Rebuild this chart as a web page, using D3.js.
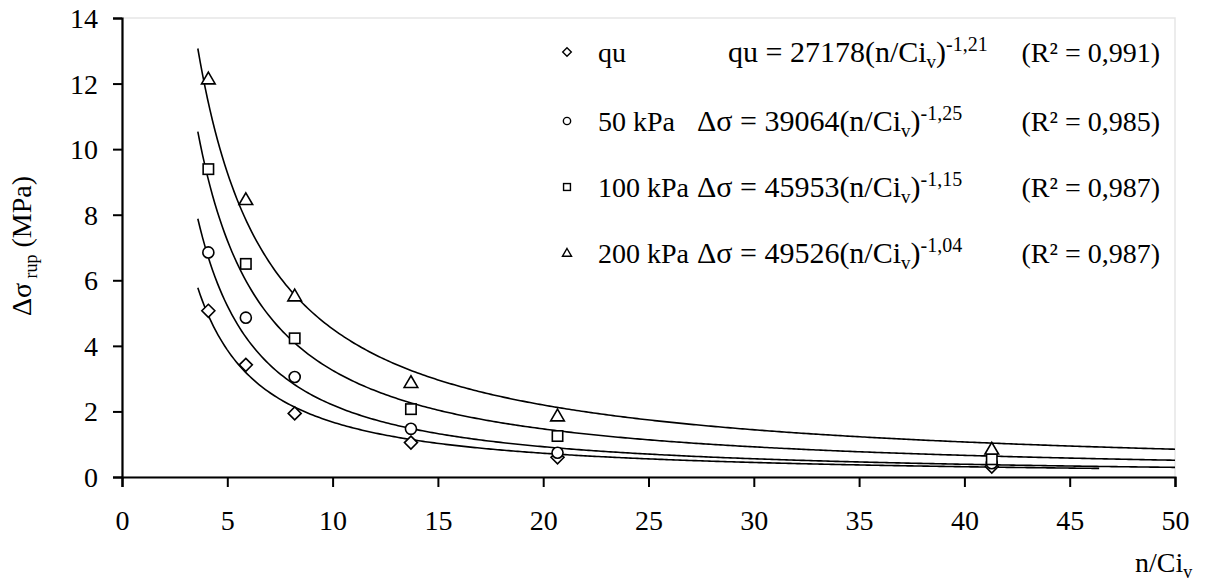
<!DOCTYPE html>
<html>
<head>
<meta charset="utf-8">
<script src="https://cdn.jsdelivr.net/npm/d3@7"></script>
<style>
  html, body { margin: 0; padding: 0; background: #fff; }
  svg { display: block; font-family: "Liberation Serif", "Times New Roman", serif; }
</style>
</head>
<body>
<svg id="chart" width="1210" height="583"></svg>
<script>
// ---- data ----
const xValues = [4.1, 5.88, 8.2, 13.72, 20.68, 41.3];
const quValues = [5.07, 3.42, 1.94, 1.05, 0.60, 0.32];
const kpa50Values = [6.85, 4.86, 3.05, 1.47, 0.74, 0.42];
const kpa100Values = [9.39, 6.50, 4.23, 2.07, 1.25, 0.54];
const kpa200Values = [12.14, 8.46, 5.52, 2.88, 1.86, 0.85];
const seriesNames = ["qu", "50 kPa", "100 kPa", "200 kPa"];
const seriesSymbols = ["diamond", "circle", "square", "triangle"];
// power-law trendlines as printed on the chart (kPa): y = a * x^b
const fitCoef = [27178, 39064, 45953, 49526];
const fitExp = ["-1,21", "-1,25", "-1,15", "-1,04"];
const fitR2 = ["0,991", "0,985", "0,987", "0,987"];
const fitStart = [3.6, 3.6, 3.6, 3.6];
const fitEnd = [46.4, 50, 50, 50];
const xTicks = [0, 5, 10, 15, 20, 25, 30, 35, 40, 45, 50];
const yTicks = [0, 2, 4, 6, 8, 10, 12, 14];

const seriesValues = [quValues, kpa50Values, kpa100Values, kpa200Values];

const svg = d3.select("#chart");
const x = d3.scaleLinear().domain([0, 50]).range([122, 1175]);
const y = d3.scaleLinear().domain([0, 14]).range([477, 18]);
const FS = "28px", SFS = "18px";

// plot area frame (light)
svg.append("rect")
  .attr("x", x(0)).attr("y", y(14))
  .attr("width", x(50) - x(0)).attr("height", y(0) - y(14))
  .attr("fill", "none").attr("stroke", "#e6e6e6").attr("stroke-width", 1.5);

// trendlines
const line = d3.line().x(d => x(d[0])).y(d => y(d[1]));
fitCoef.forEach((a, i) => {
  const b = +fitExp[i].replace(",", ".");
  const pts = [];
  const n = 400;
  for (let k = 0; k <= n; k++) {
    const xv = fitStart[i] + (fitEnd[i] - fitStart[i]) * k / n;
    pts.push([xv, a * Math.pow(xv, b) / 1000]);
  }
  svg.append("path").attr("d", line(pts))
    .attr("fill", "none").attr("stroke", "#000").attr("stroke-width", 1.6);
});

// marker drawing
function marker(g, type, cx, cy, s) {
  if (type === "diamond") {
    g.append("path").attr("d", `M${cx},${cy - s}L${cx + s},${cy}L${cx},${cy + s}L${cx - s},${cy}Z`);
  } else if (type === "circle") {
    g.append("circle").attr("cx", cx).attr("cy", cy).attr("r", s * 0.85);
  } else if (type === "square") {
    g.append("rect").attr("x", cx - s * 0.8).attr("y", cy - s * 0.8).attr("width", s * 1.6).attr("height", s * 1.6);
  } else if (type === "triangle") {
    g.append("path").attr("d", `M${cx},${cy - s * 1.05}L${cx + s * 1.05},${cy + s * 0.75}L${cx - s * 1.05},${cy + s * 0.75}Z`);
  }
}

const pointsG = svg.append("g").attr("fill", "#fff").attr("stroke", "#000").attr("stroke-width", 1.6);
seriesValues.forEach((vals, i) => {
  vals.forEach((v, j) => marker(pointsG, seriesSymbols[i], x(xValues[j]), y(v), 6.5));
});

// axes
const xAxis = svg.append("g").attr("transform", `translate(0,${y(0)})`)
  .call(d3.axisBottom(x).tickValues(xTicks).tickSize(10).tickPadding(24).tickFormat(d3.format("d")));
const yAxis = svg.append("g").attr("transform", `translate(${x(0)},0)`)
  .call(d3.axisLeft(y).tickValues(yTicks).tickSize(9).tickPadding(15).tickFormat(d3.format("d")));
[xAxis, yAxis].forEach(g => {
  g.select(".domain").attr("stroke", "#000").attr("stroke-width", 2.2);
  g.selectAll(".tick line").attr("stroke", "#000").attr("stroke-width", 2);
  g.selectAll(".tick text").attr("fill", "#000")
    .style("font-family", '"Liberation Serif", serif').style("font-size", FS);
});
yAxis.selectAll(".tick text").attr("dy", "0.34em");
xAxis.selectAll(".tick text").attr("dy", "0.68em");

// y axis title
const yt = svg.append("text")
  .attr("transform", `translate(31,${246}) rotate(-90)`)
  .attr("text-anchor", "middle").style("font-size", FS).attr("fill", "#000");
yt.append("tspan").text("Δσ");
yt.append("tspan").text(" rup").attr("dy", 6).style("font-size", SFS);
yt.append("tspan").text(" (MPa)").attr("dy", -6);

// x axis title
const xt = svg.append("text").attr("x", 1135).attr("y", 572).style("font-size", FS).attr("fill", "#000");
xt.append("tspan").text("n/Ci");
xt.append("tspan").text("v").attr("dy", 6).style("font-size", SFS);

// legend
const legRowY = [52, 121, 187, 253];
const eqX = [728, 697, 697, 697];
const legG = svg.append("g").attr("fill", "#000");
const legMarkG = svg.append("g").attr("fill", "#fff").attr("stroke", "#000").attr("stroke-width", 1.4);
seriesNames.forEach((name, i) => {
  const cy = legRowY[i];
  marker(legMarkG, seriesSymbols[i], 567, cy, 4.3);
  legG.append("text").attr("x", 598).attr("y", cy + 10).style("font-size", FS).text(name);
  const t = legG.append("text").attr("x", eqX[i]).attr("y", cy + 10).style("font-size", "30px");
  t.append("tspan").text((i === 0 ? "qu" : "Δσ") + " = " + fitCoef[i] + "(n/Ci");
  t.append("tspan").text("v").attr("dy", 6).style("font-size", "19px");
  t.append("tspan").text(")").attr("dy", -6);
  t.append("tspan").text(fitExp[i]).attr("dy", -11).style("font-size", "20px");
  legG.append("text").attr("x", 1160).attr("y", cy + 10).attr("text-anchor", "end")
    .style("font-size", FS).text("(R² = " + fitR2[i] + ")");
});
</script>
</body>
</html>
